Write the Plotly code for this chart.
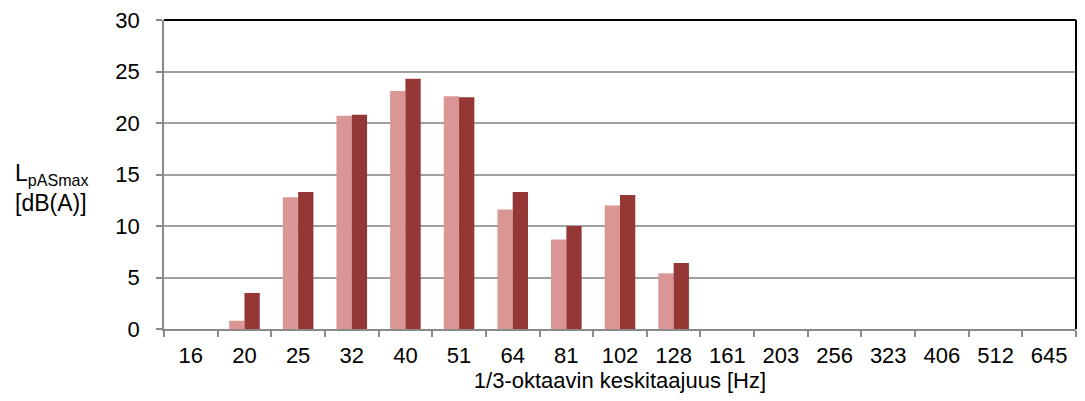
import plotly.graph_objects as go

# 1/3-octave band centre frequencies [Hz]
bands = ["16", "20", "25", "32", "40", "51", "64", "81", "102", "128",
         "161", "203", "256", "323", "406", "512", "645"]

# Maximum A-weighted sound pressure levels per band, two measurements
level_a = [0, 0.8, 12.8, 20.7, 23.1, 22.6, 11.6, 8.7, 12.0, 5.4,
           0, 0, 0, 0, 0, 0, 0]
level_b = [0, 3.5, 13.3, 20.8, 24.3, 22.5, 13.3, 10.0, 13.0, 6.4,
           0, 0, 0, 0, 0, 0, 0]

y_ticks = [0, 5, 10, 15, 20, 25, 30]

FONT = "Liberation Sans, Arial, sans-serif"

fig = go.Figure()
fig.add_trace(go.Bar(x=bands, y=level_a, marker=dict(color="#D99694", line=dict(width=0)),
                     showlegend=False))
fig.add_trace(go.Bar(x=bands, y=level_b, marker=dict(color="#953735", line=dict(width=0)),
                     showlegend=False))

fig.update_layout(
    width=1085, height=401,
    margin=dict(l=164, r=9, t=20, b=72),
    paper_bgcolor="white", plot_bgcolor="white",
    barmode="group", bargap=0.43, bargroupgap=0,
    font=dict(family=FONT, size=22, color="black"),
)

fig.update_xaxes(
    type="category",
    showline=True, linecolor="#8a8a8a", linewidth=1.5,
    ticks="outside", tickson="boundaries", ticklen=6, tickcolor="#8a8a8a", tickwidth=1.5,
    showgrid=False,
    tickfont=dict(family=FONT, size=22),
    ticklabelstandoff=6,
    title=dict(text="1/3-oktaavin keskitaajuus [Hz]", font=dict(family=FONT, size=22), standoff=4),
)
fig.update_yaxes(
    range=[0, 30], tickvals=y_ticks,
    showline=True, linecolor="#8a8a8a", linewidth=1.5,
    ticks="outside", ticklen=6, tickcolor="#8a8a8a", tickwidth=1.5,
    showgrid=True, gridcolor="#a0a0a0", gridwidth=1.5,
    zeroline=False,
    tickfont=dict(family=FONT, size=22),
    ticklabelstandoff=12,
)

# Black frame on the top and right of the plot area
fig.add_shape(type="line", xref="paper", yref="paper", x0=0, x1=1, y0=1, y1=1,
              line=dict(color="black", width=2), layer="above")
fig.add_shape(type="line", xref="paper", yref="paper", x0=1, x1=1, y0=0, y1=1,
              line=dict(color="black", width=2), layer="above")

# Y-axis title with subscript
fig.add_annotation(
    xref="paper", yref="paper", x=-0.1656, y=0.455,
    xanchor="left", yanchor="middle", align="left", showarrow=False,
    text="L<sub>pASmax</sub><br>[dB(A)]",
    font=dict(family=FONT, size=23, color="black"),
)

fig.write_html("out.html")
